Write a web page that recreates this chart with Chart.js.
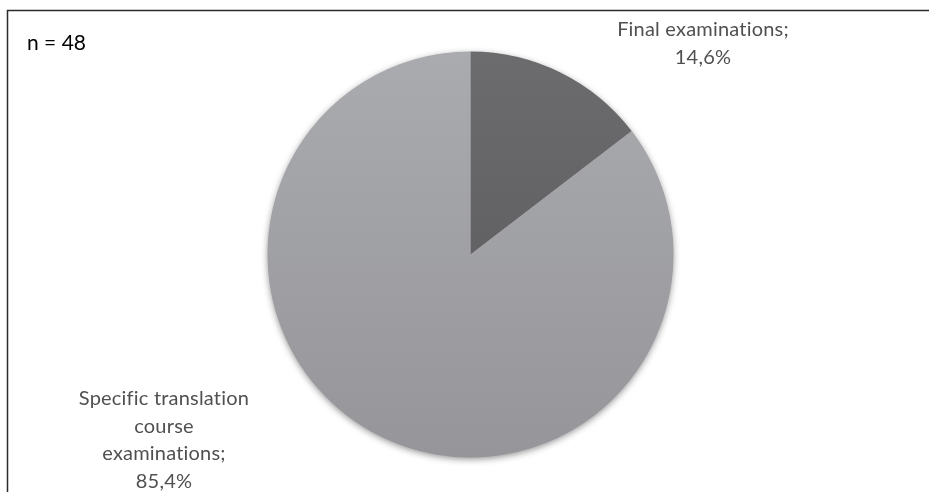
<!DOCTYPE html>
<html>
<head>
<meta charset="utf-8">
<script src="https://cdn.jsdelivr.net/npm/chart.js@4.4.1/dist/chart.umd.min.js"></script>
<style>
  html, body { margin: 0; padding: 0; background: #ffffff; }
  #wrap { position: relative; width: 929px; height: 492px; }
  canvas { display: block; }
</style>
</head>
<body>
<div id="wrap"><canvas id="pie" width="929" height="492"></canvas></div>
<script>
// Exam types in which the assessment takes place (share of respondents, %)
const categories = ['Final examinations;', 'Specific translation course examinations;'];
const shares = [14.6, 85.4];
const sampleNote = 'n = 48';

// Label lines for each slice: wrapped category text followed by the value
const labelLines = [
  ['Final examinations;'],
  ['Specific translation', 'course', 'examinations;']
];

const fmtPct = v => v.toFixed(1).replace('.', ',') + '%';

function sliceGradient(ctx, top, bottom, c1, c2) {
  const g = ctx.createLinearGradient(0, top, 0, bottom);
  g.addColorStop(0, c1);
  g.addColorStop(1, c2);
  return g;
}

const decor = {
  id: 'decor',
  beforeDatasetsDraw(chart) {
    const { ctx } = chart;
    const arc = chart.getDatasetMeta(0).data[0];
    if (!arc) return;
    // soft drop shadow behind the whole pie
    ctx.save();
    ctx.shadowColor = 'rgba(0,0,0,0.45)';
    ctx.shadowBlur = 7;
    ctx.shadowOffsetY = 2;
    ctx.fillStyle = '#9c9ca0';
    ctx.beginPath();
    ctx.arc(arc.x, arc.y, arc.outerRadius - 0.5, 0, Math.PI * 2);
    ctx.fill();
    ctx.restore();
  },
  afterDraw(chart, args, opts) {
    const { ctx } = chart;
    ctx.save();
    // frame lines (top and left)
    ctx.strokeStyle = '#2b2b2b';
    ctx.lineWidth = 1.5;
    ctx.beginPath();
    ctx.moveTo(929, 10.5);
    ctx.lineTo(7.5, 10.5);
    ctx.lineTo(7.5, 492);
    ctx.stroke();

    // sample size note
    ctx.fillStyle = '#000000';
    ctx.font = '21px Lato';
    ctx.textAlign = 'left';
    ctx.textBaseline = 'middle';
    ctx.fillText(sampleNote, 27, 43);

    // slice labels (slight tracking keeps letters apart, no ligatures)
    if ('letterSpacing' in ctx) ctx.letterSpacing = '0.2px';
    ctx.fillStyle = '#505050';
    ctx.font = '20px Lato';
    ctx.textAlign = 'center';
    opts.anchors.forEach((a, i) => {
      const lines = labelLines[i].concat([fmtPct(shares[i])]);
      lines.forEach((t, k) => ctx.fillText(t, a.x, a.y + k * opts.lineHeight));
    });
    ctx.restore();
  }
};

new Chart(document.getElementById('pie'), {
  type: 'pie',
  data: {
    labels: categories,
    datasets: [{
      data: shares,
      borderWidth: 0,
      backgroundColor(c) {
        const area = c.chart.chartArea;
        if (!area) return c.dataIndex === 0 ? '#616164' : '#a2a3a6';
        return c.dataIndex === 0
          ? sliceGradient(c.chart.ctx, area.top, area.bottom, '#6c6c6f', '#57575a')
          : sliceGradient(c.chart.ctx, area.top, area.bottom, '#aaabae', '#96969a');
      }
    }]
  },
  options: {
    responsive: false,
    animation: false,
    events: [],
    layout: { padding: { left: 267.5, right: 255.5, top: 51.5, bottom: 34.5 } },
    plugins: {
      legend: { display: false },
      tooltip: { enabled: false },
      decor: {
        lineHeight: 27.5,
        anchors: [ { x: 703, y: 30 }, { x: 164, y: 399 } ]
      }
    }
  },
  plugins: [decor]
});
</script>
</body>
</html>
